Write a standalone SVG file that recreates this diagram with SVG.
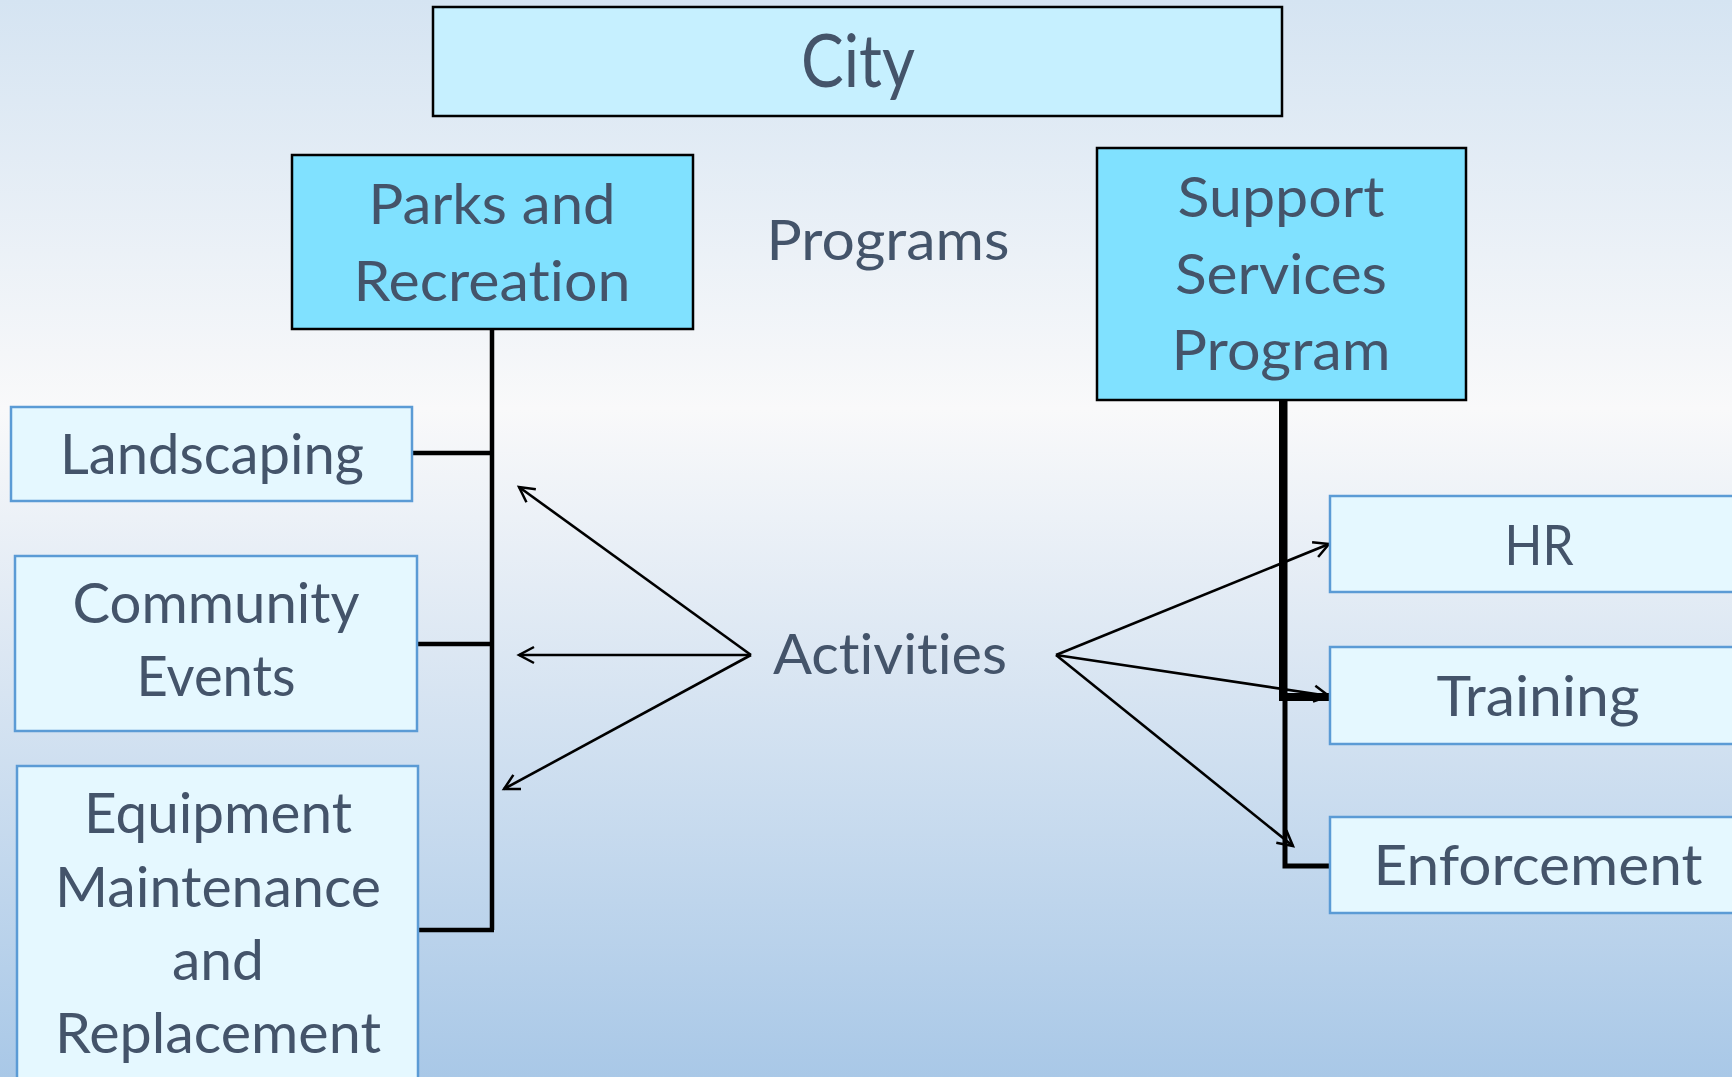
<svg xmlns="http://www.w3.org/2000/svg" width="1732" height="1077" viewBox="0 0 1732 1077">
<defs>
<linearGradient id="bg" x1="0" y1="0" x2="0" y2="1">
<stop offset="0" stop-color="#D5E4F2"/>
<stop offset="0.38" stop-color="#F9F9FA"/>
<stop offset="1" stop-color="#A9C8E7"/>
</linearGradient>
<marker id="arr" markerUnits="userSpaceOnUse" markerWidth="30" markerHeight="30" viewBox="-20 -15 30 30" refX="0" refY="0" orient="auto" overflow="visible">
<path d="M-15,-8 L0,0 L-15,8" fill="none" stroke="#000" stroke-width="2.5"/>
</marker>
<style>
text{font-family:Lato,"Open Sans","Liberation Sans",sans-serif;fill:#44546A;text-anchor:middle;font-size:56px;font-variant-ligatures:none}
.top{fill:#C6F0FF;stroke:#000;stroke-width:2.5}
.prog{fill:#80E1FF;stroke:#000;stroke-width:2.5}
.act{fill:#E5F8FF;stroke:#5B9BD5;stroke-width:2.5}
.tree{fill:none;stroke:#000;stroke-width:4.5}
.ptr{fill:none;stroke:#000;stroke-width:2.6;marker-end:url(#arr)}
</style>
</defs>
<rect x="0" y="0" width="1732" height="1077" fill="url(#bg)"/>
<g id="connectors">
<path class="tree" d="M492,329 V930 M412,453 H492 M418,644 H492 M418,930 H494"/>
<path class="tree" style="stroke-width:8" d="M1283,400 V697 H1331"/>
<path class="tree" style="stroke-width:5" d="M1285,400 V866 H1332"/>
<line class="ptr" x1="751" y1="655" x2="519" y2="487"/>
<line class="ptr" x1="751" y1="655" x2="519" y2="655"/>
<line class="ptr" x1="751" y1="655" x2="504" y2="789"/>
<line class="ptr" x1="1056" y1="655" x2="1329" y2="544"/>
<line class="ptr" x1="1056" y1="655" x2="1329" y2="696"/>
<line class="ptr" x1="1056" y1="655" x2="1293" y2="846"/>
</g>
<g id="city">
<rect class="top" x="433" y="7" width="849" height="109"/>
<text x="858" y="87" style="font-size:74px" textLength="114" lengthAdjust="spacingAndGlyphs">City</text>
</g>
<g id="programs-label">
<text x="888" y="260" textLength="243" lengthAdjust="spacingAndGlyphs">Programs</text>
</g>
<g id="parks">
<rect class="prog" x="292" y="155" width="401" height="174"/>
<text x="492" y="224" textLength="247" lengthAdjust="spacingAndGlyphs">Parks and</text>
<text x="492" y="301" textLength="277" lengthAdjust="spacingAndGlyphs">Recreation</text>
</g>
<g id="support">
<rect class="prog" x="1097" y="148" width="369" height="252"/>
<text x="1281" y="217" textLength="207" lengthAdjust="spacingAndGlyphs">Support</text>
<text x="1281" y="294" textLength="212" lengthAdjust="spacingAndGlyphs">Services</text>
<text x="1281" y="370" textLength="219" lengthAdjust="spacingAndGlyphs">Program</text>
</g>
<g id="landscaping">
<rect class="act" x="11" y="407" width="401" height="94"/>
<text x="212" y="474" textLength="304" lengthAdjust="spacingAndGlyphs">Landscaping</text>
</g>
<g id="community">
<rect class="act" x="15" y="556" width="402" height="175"/>
<text x="216" y="623" textLength="287" lengthAdjust="spacingAndGlyphs">Community</text>
<text x="216" y="696" textLength="159" lengthAdjust="spacingAndGlyphs">Events</text>
</g>
<g id="equipment">
<rect class="act" x="17" y="766" width="401" height="330"/>
<text x="218" y="833" textLength="268" lengthAdjust="spacingAndGlyphs">Equipment</text>
<text x="218" y="907" textLength="326" lengthAdjust="spacingAndGlyphs">Maintenance</text>
<text x="218" y="980" textLength="92" lengthAdjust="spacingAndGlyphs">and</text>
<text x="218" y="1053" textLength="326" lengthAdjust="spacingAndGlyphs">Replacement</text>
</g>
<g id="activities-label">
<text x="890" y="674" textLength="234" lengthAdjust="spacingAndGlyphs">Activities</text>
</g>
<g id="hr">
<rect class="act" x="1330" y="496" width="420" height="96"/>
<text x="1539" y="565" textLength="69" lengthAdjust="spacingAndGlyphs">HR</text>
</g>
<g id="training">
<rect class="act" x="1330" y="647" width="420" height="97"/>
<text x="1538" y="716" textLength="203" lengthAdjust="spacingAndGlyphs">Training</text>
</g>
<g id="enforcement">
<rect class="act" x="1330" y="817" width="420" height="96"/>
<text x="1538" y="885" textLength="329" lengthAdjust="spacingAndGlyphs">Enforcement</text>
</g>
</svg>
